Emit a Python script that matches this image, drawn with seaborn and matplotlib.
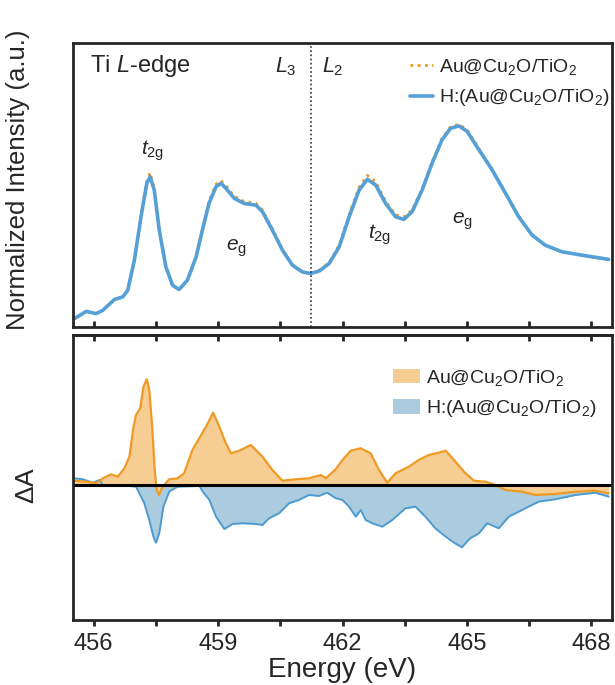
import numpy as np
import pandas as pd
import matplotlib
matplotlib.use("Agg")
import matplotlib.pyplot as plt
import seaborn as sns

# Ti L-edge XAS (energy in eV, normalized intensity)
energy_xas = [455.54, 455.82, 456.06, 456.22, 456.50, 456.70, 456.82, 456.98, 457.14, 457.28,
              457.36, 457.46, 457.58, 457.74, 457.90, 458.06, 458.26, 458.47, 458.62, 458.78,
              458.95, 459.07, 459.19, 459.39, 459.63, 459.91, 460.07, 460.31, 460.55, 460.79,
              461.03, 461.23, 461.45, 461.68, 461.92, 462.16, 462.40, 462.60, 462.80, 463.04,
              463.28, 463.48, 463.68, 463.92, 464.16, 464.40, 464.61, 464.81, 465.01, 465.29,
              465.61, 465.93, 466.25, 466.57, 466.89, 467.29, 467.77, 468.42]
xas_h = [0.030, 0.055, 0.047, 0.059, 0.097, 0.106, 0.129, 0.235, 0.388, 0.506,
         0.529, 0.482, 0.341, 0.212, 0.147, 0.132, 0.165, 0.247, 0.341, 0.435,
         0.494, 0.506, 0.488, 0.453, 0.435, 0.429, 0.406, 0.341, 0.271, 0.218,
         0.194, 0.188, 0.198, 0.224, 0.282, 0.388, 0.482, 0.520, 0.500, 0.435,
         0.388, 0.379, 0.406, 0.482, 0.576, 0.659, 0.700, 0.708, 0.688, 0.624,
         0.553, 0.471, 0.388, 0.324, 0.288, 0.265, 0.253, 0.238]
xas_pristine = [0.030, 0.055, 0.047, 0.059, 0.097, 0.106, 0.129, 0.236, 0.392, 0.515,
                0.543, 0.488, 0.343, 0.212, 0.147, 0.132, 0.166, 0.250, 0.346, 0.443,
                0.503, 0.516, 0.498, 0.460, 0.442, 0.436, 0.412, 0.345, 0.273, 0.219,
                0.195, 0.189, 0.200, 0.228, 0.288, 0.396, 0.492, 0.534, 0.512, 0.443,
                0.395, 0.388, 0.412, 0.487, 0.581, 0.664, 0.706, 0.714, 0.694, 0.628,
                0.556, 0.473, 0.389, 0.325, 0.288, 0.265, 0.253, 0.238]

# difference spectra (Delta A)
energy_d_pristine = [455.54, 455.82, 456.06, 456.22, 456.42, 456.58, 456.74, 456.86, 456.96, 457.02,
                     457.12, 457.20, 457.28, 457.34, 457.41, 457.47, 457.52, 457.57, 457.66, 457.82,
                     458.02, 458.18, 458.38, 458.59, 458.71, 458.88, 459.03, 459.17, 459.31, 459.51,
                     459.79, 460.07, 460.31, 460.55, 460.87, 461.19, 461.48, 461.60, 461.84, 462.00,
                     462.20, 462.44, 462.68, 462.88, 463.08, 463.28, 463.60, 463.84, 464.08, 464.32,
                     464.49, 464.69, 464.93, 465.17, 465.45, 465.69, 465.93, 466.33, 466.65, 467.13,
                     467.62, 468.10, 468.42]
diff_pristine = [0.043, 0.033, 0.017, 0.067, 0.107, 0.083, 0.167, 0.283, 0.583, 0.700,
                 0.767, 0.983, 1.057, 0.950, 0.583, 0.150, -0.050, -0.100, -0.017, 0.057,
                 0.067, 0.117, 0.350, 0.500, 0.583, 0.723, 0.583, 0.433, 0.317, 0.343,
                 0.400, 0.283, 0.150, 0.043, 0.057, 0.067, 0.100, 0.067, 0.160, 0.250,
                 0.343, 0.367, 0.317, 0.150, 0.023, 0.117, 0.183, 0.250, 0.300, 0.323,
                 0.343, 0.250, 0.133, 0.043, 0.033, 0.000, -0.050, -0.067, -0.100, -0.090,
                 -0.067, -0.057, -0.083]

energy_d_h = [455.54, 455.74, 455.98, 456.14, 456.22, 456.60, 457.02, 457.10, 457.22, 457.34,
              457.44, 457.50, 457.58, 457.68, 457.82, 458.02, 458.55, 458.63, 458.79, 458.95,
              459.15, 459.35, 459.59, 459.91, 460.07, 460.23, 460.47, 460.71, 460.95, 461.19,
              461.43, 461.63, 461.84, 462.00, 462.16, 462.32, 462.44, 462.56, 462.72, 462.96,
              463.20, 463.52, 463.76, 464.00, 464.24, 464.49, 464.69, 464.88, 465.08, 465.29,
              465.49, 465.77, 466.01, 466.33, 466.73, 467.13, 467.62, 468.10, 468.42]
diff_h = [0.067, 0.057, 0.023, 0.050, 0.000, 0.000, -0.017, -0.083, -0.183, -0.350,
          -0.517, -0.577, -0.483, -0.217, -0.067, -0.017, -0.010, -0.067, -0.150, -0.317,
          -0.440, -0.390, -0.383, -0.390, -0.400, -0.333, -0.283, -0.183, -0.150, -0.100,
          -0.110, -0.077, -0.133, -0.150, -0.217, -0.317, -0.250, -0.350, -0.383, -0.417,
          -0.350, -0.233, -0.217, -0.317, -0.433, -0.517, -0.577, -0.623, -0.533, -0.483,
          -0.383, -0.433, -0.317, -0.250, -0.167, -0.143, -0.100, -0.077, -0.117]

label_pristine = "Au@Cu$_2$O/TiO$_2$"
label_h = "H:(Au@Cu$_2$O/TiO$_2$)"
major_ticks = [456, 459, 462, 465, 468]
minor_ticks = [457.5, 460.5, 463.5, 466.5]

ORANGE = "#EE9A25"
ORANGE_FILL = "#F6CD92"
BLUE = "#55A0D6"
BLUE_LINE2 = "#4E9BD0"
BLUE_FILL = "#AACCDE"

sns.set_style("ticks")
plt.rcParams["font.family"] = ["Liberation Sans", "DejaVu Sans"]
plt.rcParams["mathtext.fontset"] = "custom"
plt.rcParams["mathtext.rm"] = "Liberation Sans"
plt.rcParams["mathtext.it"] = "Liberation Sans:italic"
plt.rcParams["mathtext.default"] = "regular"

W, H = 615, 685
fig = plt.figure(figsize=(W / 100, H / 100), dpi=100)
ax1 = fig.add_axes([73 / W, 1 - 327 / H, 539 / W, 284 / H])
ax2 = fig.add_axes([73 / W, 1 - 620 / H, 539 / W, 285 / H])

# top panel: XAS
sns.lineplot(x=energy_xas, y=xas_pristine, ax=ax1, color=ORANGE, lw=2.0,
             linestyle=(0, (1, 1.6)), label=label_pristine)
sns.lineplot(x=energy_xas, y=xas_h, ax=ax1, color=BLUE, lw=2.6, label=label_h)
ax1.axvline(461.23, color="#333333", lw=1.2, linestyle=(0, (1, 1.5)))
ax1.set_ylim(0, 1)
ax1.text(455.9, 0.918, "Ti $\\mathit{L}$-edge", fontsize=17, va="center")
ax1.text(460.63, 0.918, "$\\mathit{L}_3$", fontsize=15.5, va="center", ha="center")
ax1.text(461.77, 0.918, "$\\mathit{L}_2$", fontsize=15.5, va="center", ha="center")
ax1.text(457.42, 0.62, "$\\mathit{t}_{2g}$", fontsize=15, va="center", ha="center")
ax1.text(459.45, 0.278, "$\\mathit{e}_g$", fontsize=15, va="center", ha="center")
ax1.text(462.9, 0.324, "$\\mathit{t}_{2g}$", fontsize=15, va="center", ha="center")
ax1.text(464.9, 0.371, "$\\mathit{e}_g$", fontsize=15, va="center", ha="center")
ax1.legend(loc="upper right", bbox_to_anchor=(1.02, 1.0), frameon=False, fontsize=14,
           handlelength=1.2, handletextpad=0.3, labelspacing=0.55, borderaxespad=0.3)

# bottom panel: difference spectra
ax2.fill_between(energy_d_h, diff_h, 0, color=BLUE_FILL, lw=0, label=label_h)
sns.lineplot(x=energy_d_h, y=diff_h, ax=ax2, color=BLUE_LINE2, lw=1.4)
ax2.fill_between(energy_d_pristine, diff_pristine, 0, color=ORANGE_FILL, lw=0, label=label_pristine)
sns.lineplot(x=energy_d_pristine, y=diff_pristine, ax=ax2, color=ORANGE, lw=1.6)
ax2.axhline(0, color="black", lw=2.2)
ax2.set_ylim(-1.35, 1.50)
h, l = ax2.get_legend_handles_labels()
ax2.legend(h[::-1], l[::-1], loc="upper right", bbox_to_anchor=(1.0, 0.94), frameon=False,
           fontsize=14, handlelength=1.4, handleheight=0.75, handletextpad=0.3,
           labelspacing=0.55, borderaxespad=0.4)

for ax in (ax1, ax2):
    ax.set_xlim(455.5, 468.5)
    ax.set_xticks(major_ticks)
    ax.set_xticks(minor_ticks, minor=True)
    ax.set_yticks([])
    ax.set_ylabel("")
    for sp in ax.spines.values():
        sp.set_visible(True)
        sp.set_linewidth(2.0)

ax1.tick_params(axis="x", which="both", direction="in", length=4.5, width=2, labelbottom=False)
ax2.tick_params(axis="x", which="both", direction="out", length=4.5, width=2,
                labelsize=17, pad=5)
ax2.set_xlabel("Energy (eV)", fontsize=20, labelpad=1)

# inward ticks along the top edge of the lower panel
top_ax = ax2.secondary_xaxis("top")
top_ax.set_xticks(major_ticks)
top_ax.set_xticks(minor_ticks, minor=True)
top_ax.tick_params(axis="x", which="both", direction="in", length=4.5, width=2, labeltop=False)
top_ax.spines["top"].set_linewidth(2.0)

fig.text(18 / W, 1 - 180 / H, "Normalized Intensity (a.u.)", rotation=90, fontsize=18.5,
         ha="center", va="center")
fig.text(27 / W, 1 - 485 / H, "$\\Delta$A", rotation=90, fontsize=19, ha="center", va="center")

fig.savefig("out.png", dpi=100)
